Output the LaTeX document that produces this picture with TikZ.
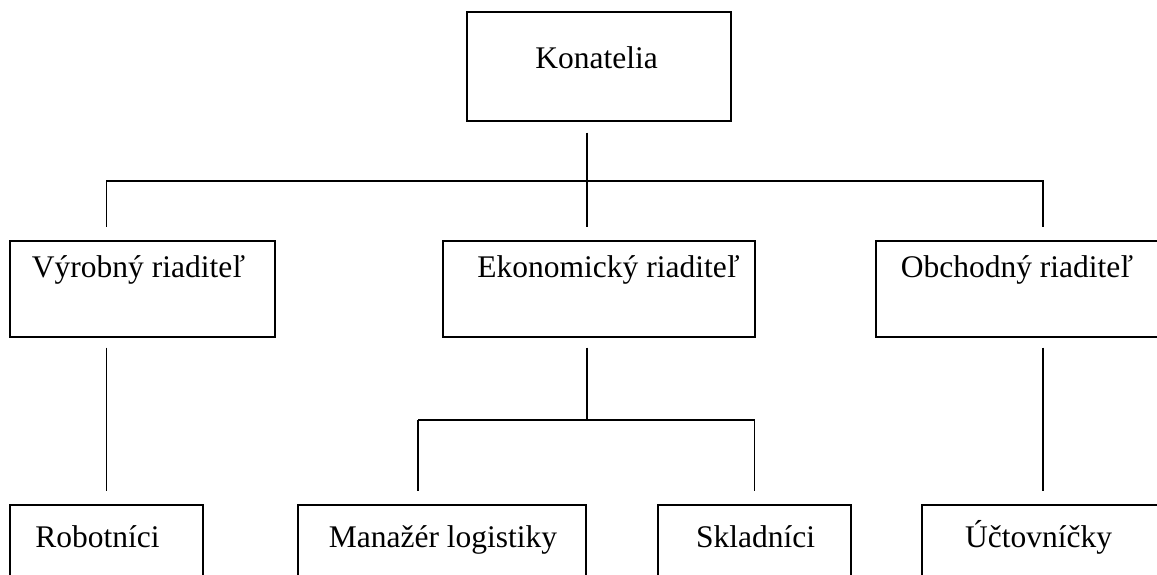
\documentclass[tikz,border=0pt]{standalone}
\usepackage{fontspec}
\setmainfont{Liberation Serif}
\usetikzlibrary{calc}
\tikzset{
  box/.style={draw, line width=1.3pt, rectangle, inner sep=0pt},
  conn/.style={line width=1.3pt},
  lbl/.style={anchor=base, inner sep=0pt, font=\fontsize{31.5}{36}\selectfont}
}
\begin{document}
\begin{tikzpicture}[x=1pt, y=-1pt]
\useasboundingbox (0,0) rectangle (1157,574);
\clip (0,0) rectangle (1157,574);
% boxes
\node[box, minimum width=264pt, minimum height=109pt] (kon) at (599,66.5) {};
\node[box, minimum width=265pt, minimum height=96pt] (vyr) at (142.5,289) {};
\node[box, minimum width=312pt, minimum height=96pt] (eko) at (599,289) {};
\node[box, minimum width=288pt, minimum height=96pt] (obc) at (1020,289) {};
\node[box, minimum width=193pt, minimum height=120pt] (rob) at (106.5,565) {};
\node[box, minimum width=288pt, minimum height=120pt] (man) at (442,565) {};
\node[box, minimum width=193pt, minimum height=120pt] (skl) at (754.5,565) {};
\node[box, minimum width=242pt, minimum height=120pt] (uct) at (1043,565) {};
% labels
\node[lbl] (tkon) at (596.5,68) {Konatelia};
\node[lbl] (tvyr) at (138.5,277) {Výrobný riaditeľ};
\node[lbl] (teko) at (608.5,277) {Ekonomický riaditeľ};
\node[lbl] (tobc) at (1017,277) {Obchodný riaditeľ};
\node[lbl] (trob) at (97.5,547) {Robotníci};
\node[lbl] (tman) at (443,547) {Manažér logistiky};
\node[lbl] (tskl) at (755.5,547) {Skladníci};
\node[lbl] (tuct) at (1038.5,547) {Účtovníčky};
% junction coordinates
\coordinate (j1) at (587,181);
\coordinate (j2) at (587,420);
\coordinate (b1) at (418,420);
% level 1 -> level 2
\draw[conn, shorten <=11pt, shorten >=13pt] (kon.south -| j1) -- (eko.north -| j1);
\draw[conn, shorten <=0pt, shorten >=13pt] (j1) -| (rob.north |- vyr.north);
\draw[conn, shorten >=13pt] (j1) -| (uct.north |- obc.north);
% level 2 -> level 3
\draw[conn, shorten <=10pt, shorten >=13pt] (rob.north |- vyr.south) -- (rob.north);
\draw[conn, shorten <=10pt, shorten >=13pt] (uct.north |- obc.south) -- (uct.north);
\draw[conn, shorten <=10pt] (eko.south -| j2) -- (j2);
\draw[conn] (b1) -- (j2 -| skl.north);
\draw[conn, shorten >=13pt] (b1) -- (man.north -| b1);
\draw[conn, shorten >=13pt] (j2 -| skl.north) -- (skl.north);
\end{tikzpicture}
\end{document}
